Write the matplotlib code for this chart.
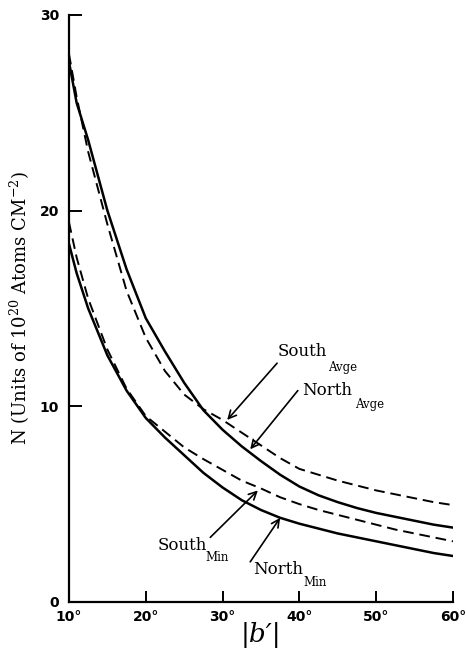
import matplotlib

matplotlib.use("Agg")
import matplotlib.pyplot as plt
from matplotlib import rcParams

# |b'| in degrees, shared by all four curves
LATITUDE = [10, 11, 12.5, 15, 17.5, 20, 22.5, 25, 27.5, 30, 32.5, 35, 37.5,
            40, 42.5, 45, 47.5, 50, 52.5, 55, 57.5, 60]

NORTH_AVGE = [27.6, 25.5, 23.6, 20.0, 17.0, 14.5, 12.8, 11.2, 9.8, 8.8, 7.95,
              7.2, 6.5, 5.9, 5.45, 5.1, 4.8, 4.55, 4.35, 4.15, 3.95, 3.8]
SOUTH_AVGE = [28.0, 25.8, 23.0, 19.3, 15.9, 13.5, 11.8, 10.6, 9.85, 9.3, 8.65,
              8.0, 7.35, 6.8, 6.5, 6.2, 5.95, 5.7, 5.5, 5.3, 5.1, 4.95]
NORTH_MIN = [18.3, 16.8, 15.0, 12.6, 10.8, 9.4, 8.4, 7.5, 6.6, 5.85, 5.2,
             4.7, 4.3, 4.0, 3.75, 3.5, 3.3, 3.1, 2.9, 2.7, 2.5, 2.35]
SOUTH_MIN = [19.4, 17.6, 15.5, 12.9, 10.9, 9.5, 8.7, 7.9, 7.3, 6.75, 6.2,
             5.8, 5.35, 5.0, 4.7, 4.45, 4.2, 3.95, 3.7, 3.5, 3.3, 3.1]

X_TICKS = [10, 20, 30, 40, 50, 60]
Y_TICKS = [0, 10, 20, 30]

LABEL_FONT = "DejaVu Serif"


def label_curve(ax, word, sub, text_xy, sub_xy, arrow_from, arrow_to):
    ax.annotate(
        "",
        xy=arrow_to,
        xytext=arrow_from,
        arrowprops=dict(arrowstyle="->", color="black", lw=1.2,
                        mutation_scale=14, shrinkA=0, shrinkB=0),
    )
    ax.text(*text_xy, word, family=LABEL_FONT, fontsize=12,
            ha="left", va="center")
    ax.text(*sub_xy, sub, family=LABEL_FONT, fontsize=8.5,
            ha="left", va="center")


def main() -> None:
    rcParams["font.family"] = ["DejaVu Sans"]
    rcParams["mathtext.fontset"] = "dejavuserif"
    fig = plt.figure(figsize=(4.66, 6.51), dpi=100)
    ax = fig.add_axes([0.148, 0.0753, 0.824, 0.902])

    ax.plot(LATITUDE, NORTH_AVGE, color="black", lw=1.8, solid_capstyle="round")
    ax.plot(LATITUDE, NORTH_MIN, color="black", lw=1.8, solid_capstyle="round")
    ax.plot(LATITUDE, SOUTH_AVGE, color="black", lw=1.4, linestyle=(0, (5.5, 3)))
    ax.plot(LATITUDE, SOUTH_MIN, color="black", lw=1.4, linestyle=(0, (5.5, 3)))

    ax.set_xlim(10, 60)
    ax.set_ylim(0, 30)
    for side in ("top", "right"):
        ax.spines[side].set_visible(False)
    for side in ("left", "bottom"):
        ax.spines[side].set_linewidth(1.6)

    ax.set_xticks(X_TICKS)
    ax.set_xticklabels([f"{t}°" for t in X_TICKS])
    ax.set_yticks(Y_TICKS)
    ax.set_yticklabels([str(t) for t in Y_TICKS])
    ax.tick_params(axis="x", direction="in", length=8, width=1.4, pad=6,
                   labelsize=10)
    ax.tick_params(axis="y", direction="in", length=9, width=1.4, pad=7,
                   labelsize=10)
    for lab in ax.get_xticklabels() + ax.get_yticklabels():
        lab.set_fontweight("bold")

    ax.set_xlabel("|b′|", family=LABEL_FONT, style="italic", fontsize=19,
                  labelpad=-2)
    ax.set_ylabel("N (Units of 10$^{20}$ Atoms CM$^{-2}$)", family=LABEL_FONT,
                  fontsize=13, labelpad=6)

    label_curve(ax, "South", "Avge", (37.2, 12.8), (43.7, 12.0),
                (37.1, 12.2), (30.6, 9.3))
    label_curve(ax, "North", "Avge", (40.3, 10.8), (47.3, 10.1),
                (39.8, 10.8), (33.6, 7.8))
    label_curve(ax, "South", "Min", (21.5, 2.9), (27.8, 2.25),
                (28.4, 3.3), (34.6, 5.7))
    label_curve(ax, "North", "Min", (34.0, 1.64), (40.5, 0.97),
                (33.6, 2.05), (37.5, 4.3))

    fig.savefig("out.png", dpi=100)
    plt.close(fig)


if __name__ == "__main__":
    main()
